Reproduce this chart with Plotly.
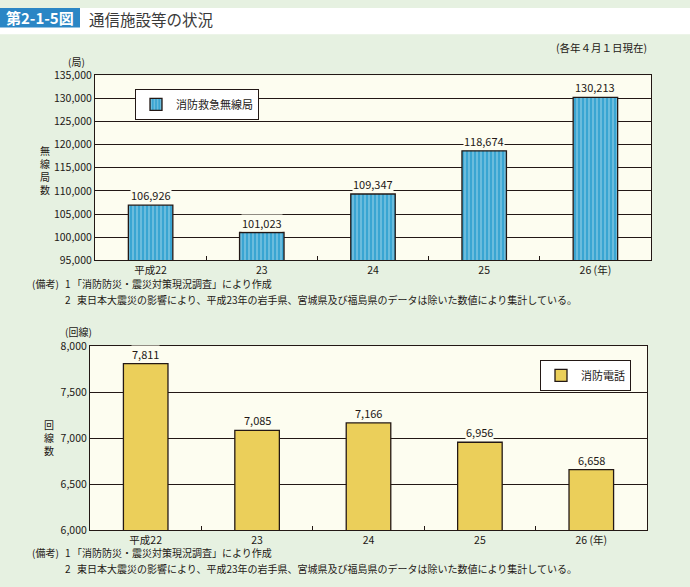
import plotly.graph_objects as go

W, H = 690, 587

categories = ["平成22", "23", "24", "25", "26 (年)"]
radio_stations = [106926, 101023, 109347, 118674, 130213]
fire_phones = [7811, 7085, 7166, 6956, 6658]

top_ticks = list(range(95000, 135001, 5000))
bot_ticks = list(range(6000, 8001, 500))

FONT = "Noto Sans CJK JP"
DARK = "#231815"
BG = "#e6f1e1"
PLOT_BG = "#fdfdf0"
BLUE = "#3aa5d2"
YELLOW = "#ebcf5a"

def px_x(p):
    return p / W

def px_y(p):
    return 1 - p / H

fig = go.Figure()

fig.add_trace(go.Bar(
    x=categories, y=radio_stations, name="消防救急無線局",
    xaxis="x", yaxis="y", width=0.4, legend="legend",
    marker=dict(color=BLUE, line=dict(color=DARK, width=1.3),
                pattern=dict(shape="|", fgcolor="white", bgcolor=BLUE,
                             size=4, solidity=0.25, fillmode="overlay")),
))
fig.add_trace(go.Bar(
    x=categories, y=fire_phones, name="消防電話",
    xaxis="x2", yaxis="y2", width=0.4, legend="legend2",
    marker=dict(color=YELLOW, line=dict(color=DARK, width=1.3)),
))

axis_common = dict(
    showline=True, mirror=True, linecolor=DARK, linewidth=1.2,
    tickfont=dict(family=FONT, size=10.5, color=DARK),
    fixedrange=True,
)

xcat = dict(type="category", categoryorder="array", categoryarray=categories,
            range=[-0.5, len(categories) - 0.5], autorange=False, tickangle=0,
            ticks="inside", tickson="boundaries", ticklen=4, tickcolor=DARK,
            showgrid=False)

fig.update_layout(
    width=W, height=H,
    margin=dict(l=0, r=0, t=0, b=0),
    paper_bgcolor=BG, plot_bgcolor=PLOT_BG,
    font=dict(family=FONT, color=DARK),
    showlegend=True,
    xaxis=dict(domain=[px_x(95), px_x(651)], anchor="y", **xcat, **axis_common),
    yaxis=dict(domain=[px_y(259), px_y(69)], anchor="x",
               range=[95000, 135000], tickvals=top_ticks,
               tickformat=",d", ticks="", showgrid=True, gridcolor=DARK,
               gridwidth=1.2, zeroline=False, **axis_common),
    xaxis2=dict(domain=[px_x(90), px_x(647)], anchor="y2", **xcat, **axis_common),
    yaxis2=dict(domain=[px_y(536), px_y(347)], anchor="x2",
                range=[6000, 8000], tickvals=bot_ticks,
                tickformat=",d", ticks="", showgrid=True, gridcolor=DARK,
                gridwidth=1.2, zeroline=False, **axis_common),
    legend=dict(x=px_x(135), y=px_y(83), xanchor="left", yanchor="top",
                bgcolor="white", bordercolor=DARK, borderwidth=1,
                font=dict(family=FONT, size=11, color=DARK),
                itemwidth=30, tracegroupgap=0, itemclick=False),
    legend2=dict(x=px_x(631), y=px_y(361), xanchor="right", yanchor="top",
                 bgcolor="white", bordercolor=DARK, borderwidth=1,
                 font=dict(family=FONT, size=11, color=DARK),
                 itemwidth=30, tracegroupgap=0, itemclick=False),
)

# header
fig.add_shape(type="rect", xref="paper", yref="paper",
              x0=0, x1=1, y0=px_y(27), y1=1, fillcolor="white", line_width=0, layer="below")
fig.add_shape(type="rect", xref="paper", yref="paper",
              x0=0, x1=px_x(80), y0=px_y(20), y1=1, fillcolor="#2a86c5", line_width=0)

annotations = []
def ann(text, x, y, size=10.5, xanchor="left", yanchor="middle", color=DARK, **kw):
    annotations.append(dict(text=text, x=px_x(x), y=px_y(y), xref="paper", yref="paper",
                            showarrow=False, xanchor=xanchor, yanchor=yanchor,
                            font=dict(family=FONT, size=size, color=color), **kw))

ann("<b>第2-1-5図</b>", 40, 10, size=15, xanchor="center", color="white")
ann("通信施設等の状況", 87, 11, size=15.5, color="#3a3a3a")
ann("(各年４月１日現在)", 649, 41, size=10.5, xanchor="right")

ann("(局)", 76, 55, size=10, xanchor="center")
ann("無<br>線<br>局<br>数", 45, 166, size=10, xanchor="center")
ann("(回線)", 78, 332, size=10, xanchor="center")
ann("回<br>線<br>数", 49, 441, size=10, xanchor="center")

for base in (283, 559):
    ann("(備考)", 30, base, size=10)
    ann("1", 63, base, size=10)
    ann("「消防防災・震災対策現況調査」により作成", 70, base, size=10)
    ann("2", 63, base + 16, size=10)
    ann("東日本大震災の影響により、平成23年の岩手県、宮城県及び福島県のデータは除いた数値により集計している。",
        75, base + 16, size=10)

for i, v in enumerate(radio_stations):
    annotations.append(dict(text=f"{v:,}", x=i, y=v, xref="x", yref="y",
                            showarrow=False, yanchor="bottom", yshift=1,
                            bgcolor=PLOT_BG, borderpad=0,
                            font=dict(family=FONT, size=11, color=DARK)))
for i, v in enumerate(fire_phones):
    annotations.append(dict(text=f"{v:,}", x=i, y=v, xref="x2", yref="y2",
                            showarrow=False, yanchor="bottom", yshift=1,
                            bgcolor=PLOT_BG, borderpad=0,
                            font=dict(family=FONT, size=11, color=DARK)))

fig.update_layout(annotations=annotations)

fig.write_html("out.html", config={"displayModeBar": False},
               post_script="document.body.style.margin='0';document.body.style.overflow='hidden';")
